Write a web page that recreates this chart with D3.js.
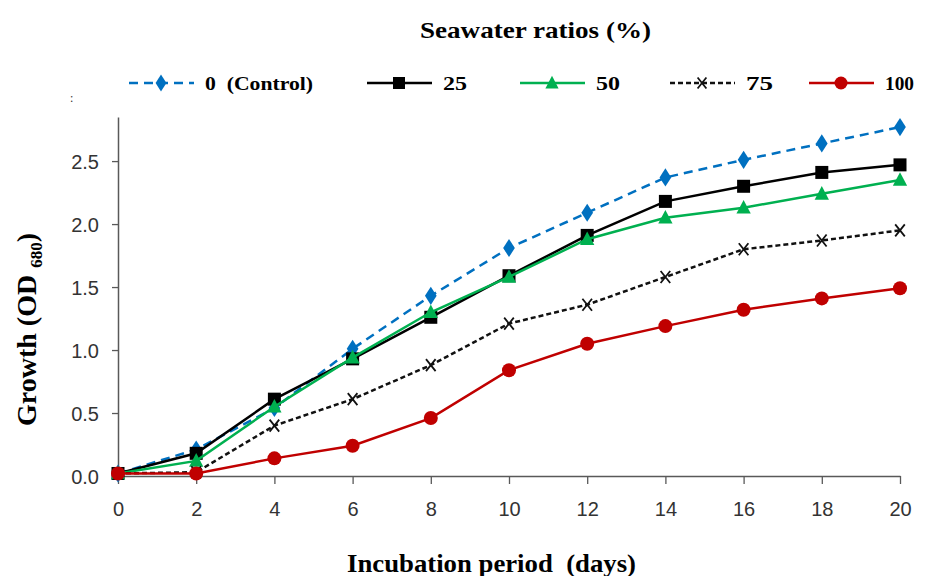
<!DOCTYPE html>
<html>
<head>
<meta charset="utf-8">
<script src="https://cdn.jsdelivr.net/npm/d3@7"></script>
<style>
  body { margin: 0; background: #fff; }
  .tick text { font-family: "Liberation Sans", Arial, sans-serif; font-size: 20px; fill: #333; }
  .serif { font-family: "Liberation Serif", "Times New Roman", serif; font-weight: bold; }
</style>
</head>
<body>
<script>
const days = [0, 2, 4, 6, 8, 10, 12, 14, 16, 18, 20];
const control = [0.02, 0.21, 0.54, 1.01, 1.43, 1.81, 2.09, 2.37, 2.51, 2.64, 2.77];
const sw25 = [0.02, 0.18, 0.61, 0.93, 1.26, 1.59, 1.91, 2.18, 2.30, 2.41, 2.47];
const sw50 = [0.02, 0.12, 0.55, 0.94, 1.30, 1.58, 1.88, 2.05, 2.13, 2.24, 2.35];
const sw75 = [0.02, 0.03, 0.40, 0.61, 0.88, 1.21, 1.36, 1.58, 1.80, 1.87, 1.95];
const sw100 = [0.02, 0.02, 0.14, 0.24, 0.46, 0.84, 1.05, 1.19, 1.32, 1.41, 1.49];
const yTicks = [0, 0.5, 1.0, 1.5, 2.0, 2.5];

const series = [
  { label: "0  (Control)", values: control, color: "#0070C0", dash: "9,6", marker: "diamond" },
  { label: "25", values: sw25, color: "#000000", dash: null, marker: "square" },
  { label: "50", values: sw50, color: "#00B050", dash: null, marker: "triangle" },
  { label: "75", values: sw75, color: "#111111", dash: "5,3", marker: "cross" },
  { label: "100", values: sw100, color: "#C00000", dash: null, marker: "circle" }
];

const width = 933, height = 576;
const margin = { top: 117, right: 33, bottom: 100, left: 118 };

const svg = d3.select("body").append("svg")
    .attr("width", width)
    .attr("height", height);

const x = d3.scaleLinear().domain([0, 20]).range([margin.left, width - margin.right]);
const y = d3.scaleLinear().domain([0, 2.85]).range([height - margin.bottom, margin.top]);

// axes
const xAxis = d3.axisBottom(x).tickValues(days).tickSize(8).tickSizeOuter(0).tickPadding(18);
const yAxis = d3.axisLeft(y).tickValues(yTicks).tickFormat(d3.format(".1f")).tickSize(6).tickSizeOuter(0).tickPadding(13);

const gx = svg.append("g")
    .attr("transform", `translate(0, ${y(0)})`)
    .call(xAxis);
const gy = svg.append("g")
    .attr("transform", `translate(${margin.left}, 0)`)
    .call(yAxis);
[gx, gy].forEach(g => {
  g.select(".domain").attr("stroke", "#595959").attr("stroke-width", 1.5);
  g.selectAll(".tick line").attr("stroke", "#595959").attr("stroke-width", 1.3);
});
gy.selectAll(".tick text").attr("dy", "0.35em");

function drawMarker(g, type, cx, cy, color, s) {
  if (type === "diamond") {
    g.append("path").attr("d", `M${cx},${cy - s * 0.7}L${cx + s * 0.45},${cy}L${cx},${cy + s * 0.7}L${cx - s * 0.45},${cy}Z`).attr("fill", color);
  } else if (type === "square") {
    g.append("rect").attr("x", cx - s / 2).attr("y", cy - s / 2).attr("width", s).attr("height", s).attr("fill", color);
  } else if (type === "triangle") {
    g.append("path").attr("d", `M${cx},${cy - s * 0.6}L${cx + s * 0.55},${cy + s * 0.45}L${cx - s * 0.55},${cy + s * 0.45}Z`).attr("fill", color);
  } else if (type === "circle") {
    g.append("circle").attr("cx", cx).attr("cy", cy).attr("r", s / 2).attr("fill", color);
  } else if (type === "cross") {
    const h = s / 2;
    g.append("path")
      .attr("d", `M${cx - h * 0.8},${cy - h}L${cx + h * 0.8},${cy + h}M${cx + h * 0.8},${cy - h}L${cx - h * 0.8},${cy + h}`)
      .attr("stroke", color).attr("stroke-width", 1.8).attr("fill", "none");
  }
}

// lines
const line = d3.line().x((d, i) => x(days[i])).y(d => y(d));
series.forEach(s => {
  const g = svg.append("g");
  g.append("path")
    .datum(s.values)
    .attr("d", line)
    .attr("fill", "none")
    .attr("stroke", s.color)
    .attr("stroke-width", 2.5)
    .attr("stroke-dasharray", s.dash);
  s.values.forEach((v, i) => drawMarker(g, s.marker, x(days[i]), y(v), s.color, s.marker === "circle" ? 14 : s.marker === "cross" ? 12 : 13));
});

// legend
const legendX = [129, 367, 520, 670, 809];
const legendTextW = [108, 24, 24, 27, 29];
series.forEach((s, i) => {
  const g = svg.append("g").attr("transform", `translate(${legendX[i]}, 83)`);
  g.append("line").attr("x1", 0).attr("x2", 65).attr("y1", 0).attr("y2", 0)
    .attr("stroke", s.color).attr("stroke-width", 2.4).attr("stroke-dasharray", s.dash);
  drawMarker(g, s.marker, 32, 0, s.color, s.marker === "circle" ? 13 : s.marker === "cross" ? 11 : 12);
  g.append("text").attr("class", "serif")
    .attr("x", 76).attr("y", 7)
    .attr("font-size", 19)
    .attr("textLength", legendTextW[i])
    .attr("lengthAdjust", "spacingAndGlyphs")
    .attr("xml:space", "preserve")
    .text(s.label);
});

// title
svg.append("text").attr("class", "serif")
  .attr("x", 420).attr("y", 38)
  .attr("font-size", 24)
  .attr("textLength", 231)
  .attr("lengthAdjust", "spacingAndGlyphs")
  .text("Seawater ratios (%)");

svg.append("text")
  .attr("x", 70).attr("y", 102)
  .attr("font-size", 12)
  .attr("fill", "#333")
  .text(":");

// y label
const yl = svg.append("text").attr("class", "serif")
  .attr("transform", `translate(36, 426) rotate(-90)`)
  .attr("font-size", 28);
yl.append("tspan").text("Growth (OD ");
yl.append("tspan").attr("font-size", 17).attr("dy", 6).text("680");
yl.append("tspan").attr("dy", -6).text(")");

// x label
svg.append("text").attr("class", "serif")
  .attr("x", 347).attr("y", 572)
  .attr("font-size", 25)
  .attr("textLength", 289)
  .attr("lengthAdjust", "spacingAndGlyphs")
  .attr("xml:space", "preserve")
  .text("Incubation period  (days)");
</script>
</body>
</html>
